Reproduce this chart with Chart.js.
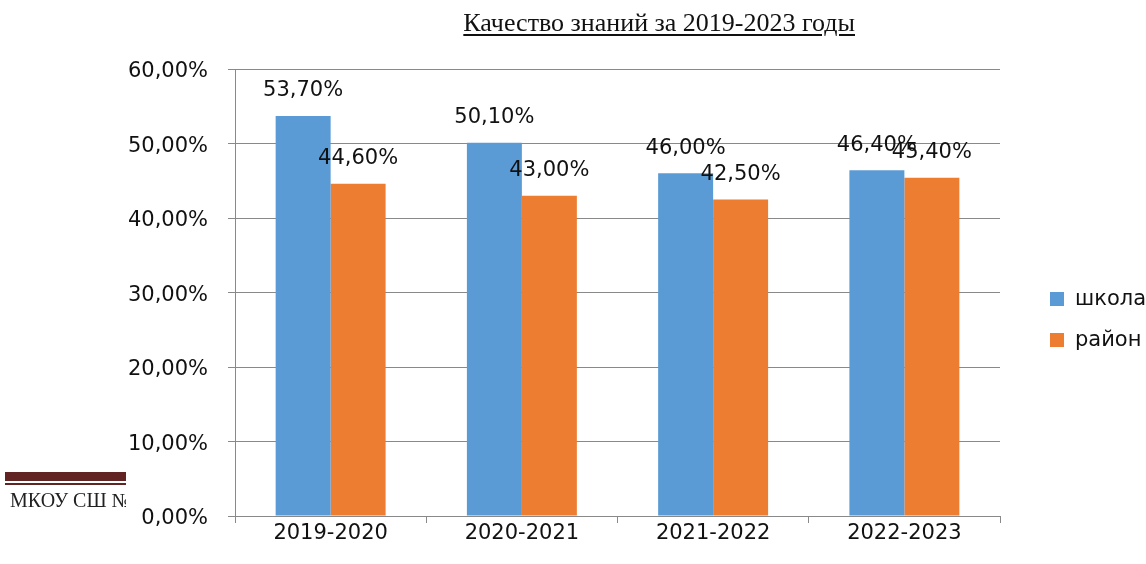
<!DOCTYPE html>
<html>
<head>
<meta charset="utf-8">
<script src="https://cdn.jsdelivr.net/npm/chart.js@4.4.1/dist/chart.umd.min.js"></script>
<style>
  html, body { margin:0; padding:0; background:#fff; }
  #wrap { position:relative; width:1146px; height:564px; overflow:hidden; }
  #title {
    position:absolute; top:8px; right:291px;
    font-family:"Liberation Serif","Times New Roman",serif; font-size:26px; line-height:30px;
    color:#111; text-decoration:underline; text-underline-offset:3px; white-space:nowrap;
  }
  #footer { position:absolute; left:5px; top:472px; width:121px; overflow:hidden; }
  #footer .thick { height:9px; background:#622423; }
  #footer .thin { height:2px; background:#622423; margin-top:2px; }
  #footer .txt {
    font-family:"Liberation Serif","Times New Roman",serif; font-size:20px; color:#222;
    white-space:nowrap; margin-top:4px; padding-left:5px;
  }
  canvas { position:absolute; left:0; top:0; }
</style>
</head>
<body>
<div id="wrap">
  <canvas id="chart" width="1146" height="564"></canvas>
  <div id="title">Качество знаний за 2019-2023 годы</div>
  <div id="footer"><div class="thick"></div><div class="thin"></div><div class="txt">МКОУ СШ №</div></div>
</div>
<script>
/* data */
const years = ['2019-2020', '2020-2021', '2021-2022', '2022-2023'];
const school = [53.7, 50.1, 46.0, 46.4];
const district = [44.6, 43.0, 42.5, 45.4];
const seriesNames = ['школа', 'район'];
const seriesColors = ['#5B9BD5', '#ED7D31'];

const FONT = 'DejaVu Sans';
const fmt = v => v.toFixed(2).replace('.', ',') + '%';

/* value labels above bars */
const valueLabels = {
  id: 'valueLabels',
  afterDatasetsDraw(chart) {
    const ctx = chart.ctx;
    ctx.save();
    ctx.font = '21px "' + FONT + '"';
    ctx.fillStyle = '#111';
    ctx.textAlign = 'center';
    ctx.textBaseline = 'middle';
    chart.data.datasets.forEach((ds, i) => {
      chart.getDatasetMeta(i).data.forEach((bar, j) => {
        ctx.fillText(fmt(ds.data[j]), bar.x, bar.y - 25);
      });
    });
    ctx.restore();
  }
};

/* legend on the right, drawn from datasets */
const sideLegend = {
  id: 'sideLegend',
  afterDraw(chart) {
    const ctx = chart.ctx;
    ctx.save();
    ctx.font = '21px "' + FONT + '"';
    ctx.textBaseline = 'middle';
    chart.data.datasets.forEach((ds, i) => {
      const y = 299 + i * 41;
      ctx.fillStyle = ds.backgroundColor;
      ctx.fillRect(1050, y - 7, 14, 14);
      ctx.fillStyle = '#111';
      ctx.fillText(ds.label, 1075, y + 1);
    });
    ctx.restore();
  }
};

new Chart(document.getElementById('chart'), {
  type: 'bar',
  data: {
    labels: years,
    datasets: [
      { label: seriesNames[0], data: school, backgroundColor: seriesColors[0] },
      { label: seriesNames[1], data: district, backgroundColor: seriesColors[1] }
    ]
  },
  options: {
    responsive: false,
    animation: false,
    layout: { padding: { top: 69, right: 146, left: 0, bottom: 0 } },
    datasets: { bar: { categoryPercentage: 0.575, barPercentage: 1.0 } },
    plugins: { legend: { display: false }, tooltip: { enabled: false } },
    scales: {
      x: {
        offset: true,
        grid: { offset: true, drawOnChartArea: false, color: '#898989', tickLength: 7, lineWidth: 1 },
        border: { color: '#898989', width: 1 },
        ticks: { color: '#111', font: { family: FONT, size: 21 }, padding: -2 },
        afterFit(s) { s.height = 48; }
      },
      y: {
        min: 0, max: 60,
        ticks: { stepSize: 10, color: '#111', font: { family: FONT, size: 21 }, padding: 20, labelOffset: 3, callback: v => fmt(v) },
        grid: { color: '#898989', tickLength: 7, lineWidth: 1 },
        border: { color: '#898989', width: 1 },
        afterFit(s) { s.width = 235; }
      }
    }
  },
  plugins: [valueLabels, sideLegend]
});
</script>
</body>
</html>
